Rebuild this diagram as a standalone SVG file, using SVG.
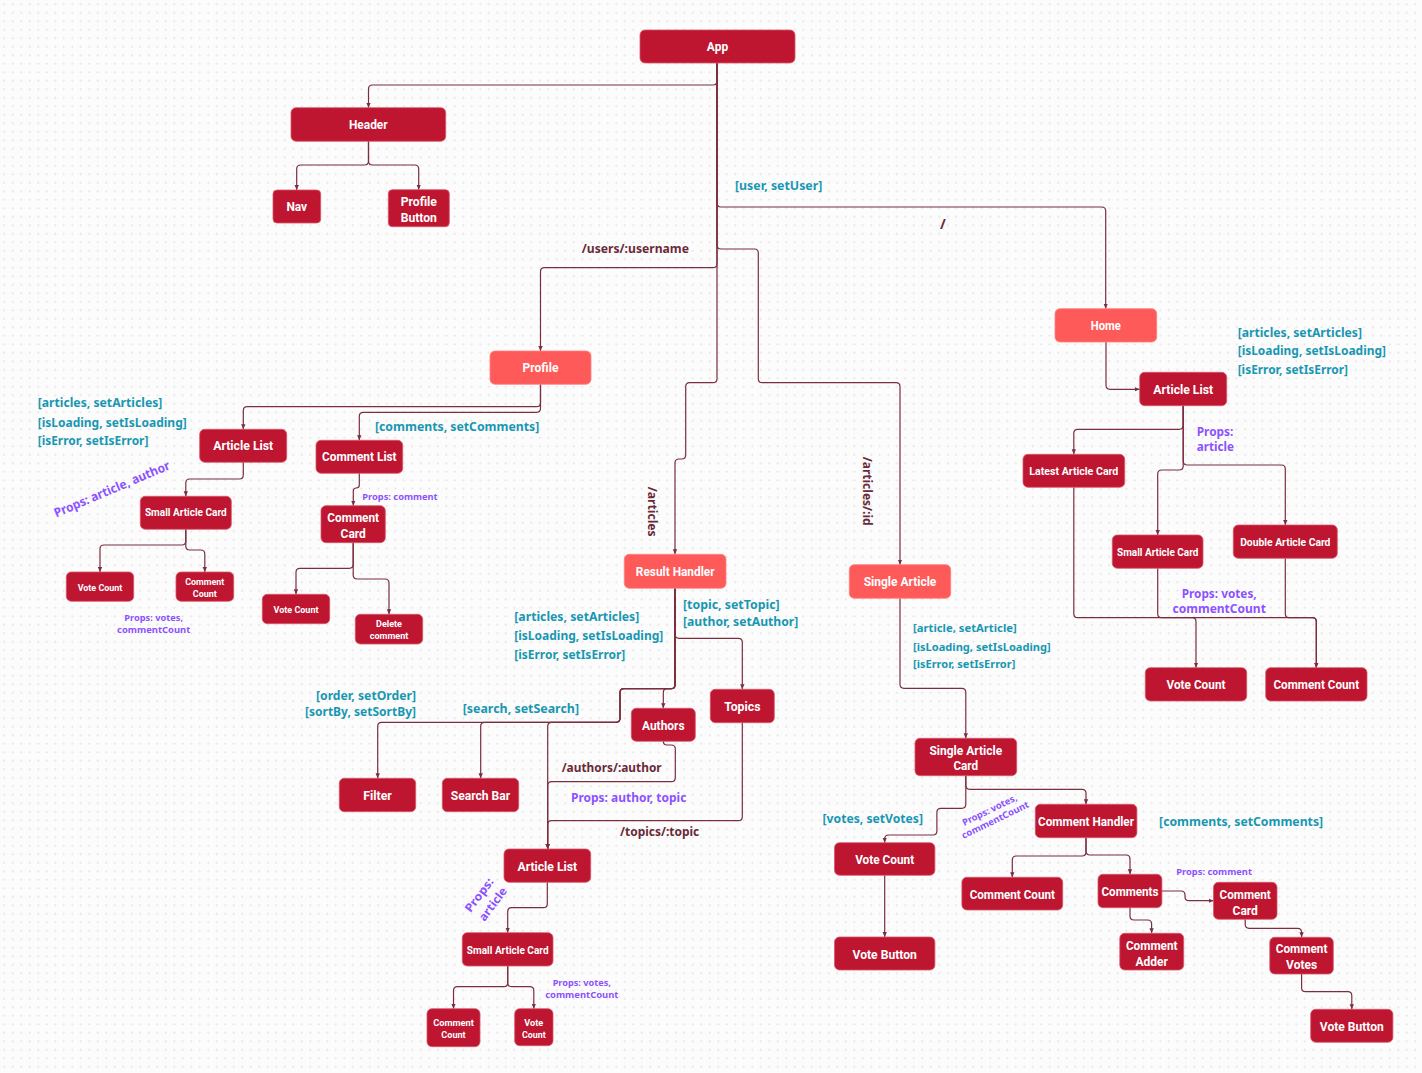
<svg xmlns="http://www.w3.org/2000/svg" width="1422" height="1073" viewBox="0 0 1422 1073">
  <defs>
    <pattern id="grid" width="8.5" height="8.5" patternUnits="userSpaceOnUse">
      <path d="M4.25 3.1 V5.4 M3.1 4.25 H5.4" stroke="#e3e3e3" stroke-width="0.8"/>
    </pattern>
    <marker id="arr" viewBox="0 0 6 6" refX="6" refY="3" markerWidth="5" markerHeight="5" markerUnits="userSpaceOnUse" orient="auto">
      <path d="M0,0.4 L6,3 L0,5.6 z" fill="#7a2e3e"/>
    </marker>
    <style>
      .n { fill: #be1531; stroke: #d8576a; stroke-width: 0.8; }
      .nl { fill: #ff5a5a; stroke: #ff8080; stroke-width: 0.8; }
      .t { font-family: Roboto, "Liberation Sans", sans-serif; font-weight: 700; fill: #ffffff; text-anchor: middle; dominant-baseline: central; font-size: 12.5px; }
      .sm { font-size: 10px; }
      .xs { font-size: 9.5px; }
      .c path { fill: none; stroke: #7a2e3e; stroke-width: 1.2; marker-end: url(#arr); }
      .st { font-family: "Noto Sans", "Open Sans", sans-serif; font-weight: 700; fill: #1897b2; font-size: 11.5px; dominant-baseline: central; }
      .rt { font-family: "Noto Sans", "Open Sans", sans-serif; font-weight: 700; fill: #6b2a38; font-size: 11.5px; dominant-baseline: central; }
      .pp { font-family: "Noto Sans", "Open Sans", sans-serif; font-weight: 700; fill: #8c52ff; font-size: 11.5px; dominant-baseline: central; }
      .pps { font-size: 9.2px; }
    </style>
  </defs>

  <rect width="1422" height="1073" fill="#fcfcfc"/>
  <rect width="1422" height="1073" fill="url(#grid)"/>

  <!-- connectors -->
  <g id="connectors" class="c">
    <path d="M717,63 V81 Q717,85 713,85 H372.5 Q368.5,85 368.5,89 V107.7"/>
    <path d="M368.5,141.3 V161 Q368.5,165 364.5,165 H300.7 Q296.7,165 296.7,169 V190"/>
    <path d="M368.5,141.3 V161 Q368.5,165 372.5,165 H414.7 Q418.7,165 418.7,169 V189.7"/>
    <path d="M717,63 V203 Q717,207 721,207 H1101.7 Q1105.7,207 1105.7,211 V308.7"/>
    <path d="M717,63 V263.7 Q717,267.7 713,267.7 H544.5 Q540.5,267.7 540.5,271.7 V351"/>
    <path d="M717,63 V245 Q717,249 721,249 H754.3 Q758.3,249 758.3,253 V378.7 Q758.3,382.7 762.3,382.7 H896 Q900,382.7 900,386.7 V564.7"/>
    <path d="M717,63 V378.7 Q717,382.7 713,382.7 H689.7 Q685.7,382.7 685.7,386.7 V455 Q685.7,459 681.7,459 H679 Q675,459 675,463 V554.3"/>

    <path d="M540.5,384.3 V402.7 Q540.5,406.7 536.5,406.7 H247.3 Q243.3,406.7 243.3,410.7 V429.3"/>
    <path d="M540.5,384.3 V408.3 Q540.5,412.3 536.5,412.3 H363.3 Q359.3,412.3 359.3,416.3 V440.3"/>
    <path d="M243.3,462.3 V475 Q243.3,479 239.3,479 H189.8 Q185.8,479 185.8,483 V496.3"/>
    <path d="M185.8,529.3 V541 Q185.8,545 181.8,545 H104 Q100,545 100,549 V572"/>
    <path d="M185.8,529.3 V546 Q185.8,550 189.8,550 H200.8 Q204.8,550 204.8,554 V572"/>
    <path d="M359.3,473.3 V485 Q359.3,488 356.3,488 Q353.3,488 353.3,491 V505.7"/>
    <path d="M353.2,542.7 V564.3 Q353.2,568.3 349.2,568.3 H300 Q296,568.3 296,572.3 V594.3"/>
    <path d="M353.2,542.7 V575 Q353.2,579 357.2,579 H385 Q389,579 389,583 V614.3"/>

    <path d="M1106,342 V385.3 Q1106,389.3 1110,389.3 H1139.7"/>
    <path d="M1183.2,405.7 V425.3 Q1183.2,429.3 1179.2,429.3 H1077.8 Q1073.8,429.3 1073.8,433.3 V454.3"/>
    <path d="M1183.2,405.7 V466 Q1183.2,470 1179.2,470 H1161.7 Q1157.7,470 1157.7,474 V535"/>
    <path d="M1183.2,405.7 V461 Q1183.2,465 1187.2,465 H1281.3 Q1285.3,465 1285.3,469 V525"/>
    <path d="M1073.8,487.3 V613.7 Q1073.8,617.7 1077.8,617.7 H1192 Q1196,617.7 1196,621.7 V667.7"/>
    <path d="M1157.7,568.3 V613.7 Q1157.7,617.7 1161.7,617.7 H1312.3 Q1316.3,617.7 1316.3,621.7 V667.7"/>
    <path d="M1285.3,558.3 V613.7 Q1285.3,617.7 1289.3,617.7 H1312.3 Q1316.3,617.7 1316.3,621.7 V667.7"/>

    <path d="M675,588.3 V634.3 Q675,638.3 679,638.3 H738.3 Q742.3,638.3 742.3,642.3 V689.3"/>
    <path d="M675,588.3 V684.7 Q675,688.7 671,688.7 H667.3 Q663.3,688.7 663.3,692.7 V708.3"/>
    <path d="M675,588.3 V684.7 Q675,688.7 671,688.7 H624 Q620,688.7 620,692.7 V718.3 Q620,722.3 616,722.3 H381.7 Q377.7,722.3 377.7,726.3 V778.3"/>
    <path d="M675,588.3 V684.7 Q675,688.7 671,688.7 H624 Q620,688.7 620,692.7 V718.3 Q620,722.3 616,722.3 H484.7 Q480.7,722.3 480.7,726.3 V778.3"/>
    <path d="M675,588.3 V684.7 Q675,688.7 671,688.7 H624 Q620,688.7 620,692.7 V718.3 Q620,722.3 616,722.3 H551.7 Q547.7,722.3 547.7,726.3 V849"/>
    <path d="M663.3,741.3 Q663.3,745 667,745 H671.3 Q675.3,745 675.3,749 V777.7 Q675.3,781.7 671.3,781.7 H551.7 Q547.7,781.7 547.7,785.7 V849"/>
    <path d="M742.3,722.7 V816.7 Q742.3,820.7 738.3,820.7 H551.7 Q547.7,820.7 547.7,824.7 V849"/>
    <path d="M547.3,882.3 V903.7 Q547.3,907.7 543.3,907.7 H511.7 Q507.7,907.7 507.7,911.7 V932.7"/>
    <path d="M507.7,966 V982.7 Q507.7,986.7 503.7,986.7 H457.5 Q453.5,986.7 453.5,990.7 V1008.7"/>
    <path d="M507.7,966 V982.7 Q507.7,986.7 511.7,986.7 H529.8 Q533.8,986.7 533.8,990.7 V1008.7"/>

    <path d="M900,598.3 V684.3 Q900,688.3 904,688.3 H961.8 Q965.8,688.3 965.8,692.3 V738.3"/>
    <path d="M965.8,775.7 V785.3 Q965.8,789.3 969.8,789.3 H1082 Q1086,789.3 1086,793.3 V804.3"/>
    <path d="M965.8,775.7 V804.3 Q965.8,808.3 961.8,808.3 H940.9 Q936.9,808.3 936.9,812.3 V831 Q936.9,835 932.9,835 H888.7 Q884.7,835 884.7,839 V842.7"/>
    <path d="M884.7,875.3 V937"/>
    <path d="M1086,837.7 V852 Q1086,856 1082,856 H1016.3 Q1012.3,856 1012.3,860 V877.3"/>
    <path d="M1086,837.7 V851 Q1086,855 1090,855 H1126 Q1130,855 1130,859 V874.3"/>
    <path d="M1161.9,891 H1181 Q1185,891 1185,895 V896.7 Q1185,900.7 1189,900.7 H1213.5"/>
    <path d="M1130,907.7 V916 Q1130,920 1134,920 H1147.6 Q1151.6,920 1151.6,924 V933.3"/>
    <path d="M1245.2,919.3 V924.3 Q1245.2,928.3 1249.2,928.3 H1297.6 Q1301.6,928.3 1301.6,932.3 V937.3"/>
    <path d="M1301.6,974 V987.7 Q1301.6,991.7 1305.6,991.7 H1347.8 Q1351.8,991.7 1351.8,995.7 V1009.3"/>
  </g>

  <!-- state, route and prop labels -->
  <g id="labels">
    <text class="st" x="735" y="185" textLength="87.3" lengthAdjust="spacingAndGlyphs">[user, setUser]</text>
    <text class="rt" x="940" y="223" style="font-size:14px">/</text>
    <text class="rt" x="581.7" y="248.3" textLength="107.3" lengthAdjust="spacingAndGlyphs">/users/:username</text>
    <text class="rt" transform="translate(652.3,511.7) rotate(90)" text-anchor="middle" textLength="50" lengthAdjust="spacingAndGlyphs">/articles</text>
    <text class="rt" transform="translate(867.5,491.2) rotate(90)" text-anchor="middle" textLength="69" lengthAdjust="spacingAndGlyphs">/articles/:id</text>

    <text class="st" x="37.7" y="402.7" textLength="124.7" lengthAdjust="spacingAndGlyphs">[articles, setArticles]</text>
    <text class="st" x="37.7" y="422" textLength="149" lengthAdjust="spacingAndGlyphs">[isLoading, setIsLoading]</text>
    <text class="st" x="37.7" y="440.7" textLength="110.7" lengthAdjust="spacingAndGlyphs">[isError, setIsError]</text>
    <text class="st" x="375" y="426.7" textLength="164.3" lengthAdjust="spacingAndGlyphs">[comments, setComments]</text>
    <text class="pp" transform="translate(111.8,489) rotate(-23)" text-anchor="middle" textLength="124.7" lengthAdjust="spacingAndGlyphs" style="font-size:12.5px">Props: article, author</text>
    <text class="pp pps" x="362.3" y="496" textLength="75.3" lengthAdjust="spacingAndGlyphs">Props: comment</text>
    <text class="pp pps" x="153.7" y="617.3" text-anchor="middle" textLength="58.7" lengthAdjust="spacingAndGlyphs">Props: votes,</text>
    <text class="pp pps" x="153.7" y="629.7" text-anchor="middle" textLength="73.3" lengthAdjust="spacingAndGlyphs">commentCount</text>

    <text class="st" x="1237.7" y="332" textLength="124.3" lengthAdjust="spacingAndGlyphs">[articles, setArticles]</text>
    <text class="st" x="1237.7" y="350.7" textLength="148.3" lengthAdjust="spacingAndGlyphs">[isLoading, setIsLoading]</text>
    <text class="st" x="1237.7" y="369.7" textLength="110.3" lengthAdjust="spacingAndGlyphs">[isError, setIsError]</text>
    <text class="pp" x="1196.7" y="431.7" textLength="36.7" lengthAdjust="spacingAndGlyphs">Props:</text>
    <text class="pp" x="1196.7" y="446.7" textLength="37.3" lengthAdjust="spacingAndGlyphs">article</text>
    <text class="pp" x="1219.2" y="593.3" text-anchor="middle" textLength="75" lengthAdjust="spacingAndGlyphs">Props: votes,</text>
    <text class="pp" x="1219.2" y="608.7" text-anchor="middle" textLength="93.3" lengthAdjust="spacingAndGlyphs">commentCount</text>

    <text class="st" x="514.3" y="616.7" textLength="125" lengthAdjust="spacingAndGlyphs">[articles, setArticles]</text>
    <text class="st" x="514.3" y="635.3" textLength="149" lengthAdjust="spacingAndGlyphs">[isLoading, setIsLoading]</text>
    <text class="st" x="514.3" y="654" textLength="111" lengthAdjust="spacingAndGlyphs">[isError, setIsError]</text>
    <text class="st" x="683" y="604" textLength="96.7" lengthAdjust="spacingAndGlyphs">[topic, setTopic]</text>
    <text class="st" x="683" y="621.3" textLength="115.3" lengthAdjust="spacingAndGlyphs">[author, setAuthor]</text>
    <text class="st" x="416" y="695" text-anchor="end" textLength="100" lengthAdjust="spacingAndGlyphs">[order, setOrder]</text>
    <text class="st" x="416" y="711" text-anchor="end" textLength="111" lengthAdjust="spacingAndGlyphs">[sortBy, setSortBy]</text>
    <text class="st" x="462.7" y="708" textLength="116.3" lengthAdjust="spacingAndGlyphs">[search, setSearch]</text>
    <text class="rt" x="561.7" y="767.3" textLength="100" lengthAdjust="spacingAndGlyphs">/authors/:author</text>
    <text class="pp" x="571" y="797.3" textLength="115.3" lengthAdjust="spacingAndGlyphs">Props: author, topic</text>
    <text class="rt" x="620" y="831" textLength="79.3" lengthAdjust="spacingAndGlyphs">/topics/:topic</text>
    <text class="pp" transform="translate(478.8,894.7) rotate(-53)" text-anchor="middle" textLength="39.2" lengthAdjust="spacingAndGlyphs">Props:</text>
    <text class="pp" transform="translate(492.5,903.8) rotate(-53)" text-anchor="middle" textLength="38.6" lengthAdjust="spacingAndGlyphs">article</text>
    <text class="pp pps" x="581.8" y="982.3" text-anchor="middle" textLength="58.3" lengthAdjust="spacingAndGlyphs">Props: votes,</text>
    <text class="pp pps" x="581.8" y="994" text-anchor="middle" textLength="73.3" lengthAdjust="spacingAndGlyphs">commentCount</text>

    <text class="st" x="913" y="628.3" textLength="103.7" lengthAdjust="spacingAndGlyphs" style="font-size:10.5px">[article, setArticle]</text>
    <text class="st" x="913" y="646.7" textLength="137.7" lengthAdjust="spacingAndGlyphs" style="font-size:10.5px">[isLoading, setIsLoading]</text>
    <text class="st" x="913" y="664.3" textLength="102.3" lengthAdjust="spacingAndGlyphs" style="font-size:10.5px">[isError, setIsError]</text>
    <text class="st" x="822.6" y="818.3" textLength="100.4" lengthAdjust="spacingAndGlyphs">[votes, setVotes]</text>
    <text class="pp pps" transform="translate(989.5,809.7) rotate(-26)" text-anchor="middle" textLength="59.6" lengthAdjust="spacingAndGlyphs">Props: votes,</text>
    <text class="pp pps" transform="translate(995,819.7) rotate(-26)" text-anchor="middle" textLength="73.7" lengthAdjust="spacingAndGlyphs">commentCount</text>
    <text class="st" x="1159.1" y="821" textLength="164" lengthAdjust="spacingAndGlyphs">[comments, setComments]</text>
    <text class="pp pps" x="1176.2" y="871" textLength="75.8" lengthAdjust="spacingAndGlyphs">Props: comment</text>
  </g>

  <!-- nodes -->
  <g id="app"><rect class="n" x="640" y="30" width="155" height="33" rx="5"/><text class="t" x="717.5" y="46.5" textLength="21.3" lengthAdjust="spacingAndGlyphs">App</text></g>
  <g id="header"><rect class="n" x="291" y="107.7" width="154.7" height="33.6" rx="5"/><text class="t" x="368.3" y="124.5" textLength="38.7" lengthAdjust="spacingAndGlyphs">Header</text></g>
  <g id="nav"><rect class="n" x="273" y="190" width="47.7" height="33" rx="4"/><text class="t" x="296.8" y="206.5" textLength="20.7" lengthAdjust="spacingAndGlyphs">Nav</text></g>
  <g id="profile-button"><rect class="n" x="388.3" y="189.7" width="61" height="37" rx="4"/><text class="t" x="418.8" y="201.3" textLength="36.3" lengthAdjust="spacingAndGlyphs">Profile</text><text class="t" x="418.8" y="217.3" textLength="36.3" lengthAdjust="spacingAndGlyphs">Button</text></g>

  <g id="profile"><rect class="nl" x="490" y="351" width="101" height="33.3" rx="5"/><text class="t" x="540.5" y="367.7" textLength="35.8" lengthAdjust="spacingAndGlyphs">Profile</text></g>
  <g id="home"><rect class="nl" x="1055" y="308.7" width="101.7" height="33.3" rx="5"/><text class="t" x="1105.8" y="325.3" textLength="30" lengthAdjust="spacingAndGlyphs">Home</text></g>
  <g id="result-handler"><rect class="nl" x="624.3" y="554.3" width="101.7" height="34" rx="5"/><text class="t" x="675.2" y="571.3" textLength="78.7" lengthAdjust="spacingAndGlyphs">Result Handler</text></g>
  <g id="single-article"><rect class="nl" x="849.3" y="564.7" width="101.4" height="33.6" rx="5"/><text class="t" x="900" y="581.5" textLength="72.7" lengthAdjust="spacingAndGlyphs">Single Article</text></g>

  <g id="profile-article-list"><rect class="n" x="199.7" y="429.3" width="87" height="33" rx="5"/><text class="t" x="243.2" y="445.8" textLength="60" lengthAdjust="spacingAndGlyphs">Article List</text></g>
  <g id="profile-comment-list"><rect class="n" x="316" y="440.3" width="86.7" height="33" rx="5"/><text class="t" x="359.3" y="456.8" textLength="74.7" lengthAdjust="spacingAndGlyphs">Comment List</text></g>
  <g id="profile-small-article-card"><rect class="n" x="140.3" y="496.3" width="91" height="33" rx="5"/><text class="t sm" x="185.8" y="512.8" textLength="81.7" lengthAdjust="spacingAndGlyphs">Small Article Card</text></g>
  <g id="profile-comment-card"><rect class="n" x="321" y="505.7" width="64.3" height="37" rx="5"/><text class="t" x="353.2" y="517.5" textLength="51.7" lengthAdjust="spacingAndGlyphs">Comment</text><text class="t" x="353.2" y="533" textLength="25.3" lengthAdjust="spacingAndGlyphs">Card</text></g>
  <g id="profile-vote-count"><rect class="n" x="66.3" y="572" width="67.4" height="29.3" rx="5"/><text class="t xs" x="100" y="587" textLength="44.7" lengthAdjust="spacingAndGlyphs">Vote Count</text></g>
  <g id="profile-comment-count"><rect class="n" x="176" y="572" width="57.7" height="29.3" rx="5"/><text class="t xs" x="204.8" y="581.7" textLength="39" lengthAdjust="spacingAndGlyphs">Comment</text><text class="t xs" x="204.8" y="593.3" textLength="24" lengthAdjust="spacingAndGlyphs">Count</text></g>
  <g id="comment-card-vote-count"><rect class="n" x="262.3" y="594.3" width="67.4" height="29.4" rx="5"/><text class="t xs" x="296" y="609.7" textLength="45" lengthAdjust="spacingAndGlyphs">Vote Count</text></g>
  <g id="delete-comment"><rect class="n" x="355.3" y="614.3" width="67.4" height="29.7" rx="5"/><text class="t xs" x="389" y="623.9" textLength="26" lengthAdjust="spacingAndGlyphs">Delete</text><text class="t xs" x="389" y="635.8" textLength="38.7" lengthAdjust="spacingAndGlyphs">comment</text></g>

  <g id="home-article-list"><rect class="n" x="1139.7" y="372.3" width="87" height="33.4" rx="5"/><text class="t" x="1183.2" y="389" textLength="59.7" lengthAdjust="spacingAndGlyphs">Article List</text></g>
  <g id="latest-article-card"><rect class="n" x="1023" y="454.3" width="101.7" height="33" rx="5"/><text class="t sm" x="1073.8" y="471" textLength="89" lengthAdjust="spacingAndGlyphs">Latest Article Card</text></g>
  <g id="home-small-article-card"><rect class="n" x="1112.3" y="535" width="90.7" height="33.3" rx="5"/><text class="t sm" x="1157.7" y="552.2" textLength="81.3" lengthAdjust="spacingAndGlyphs">Small Article Card</text></g>
  <g id="double-article-card"><rect class="n" x="1233.3" y="525" width="104" height="33.3" rx="5"/><text class="t sm" x="1285.3" y="542" textLength="90.3" lengthAdjust="spacingAndGlyphs">Double Article Card</text></g>
  <g id="home-vote-count"><rect class="n" x="1145.3" y="667.7" width="101.4" height="33.3" rx="5"/><text class="t" x="1196" y="684.6" textLength="59" lengthAdjust="spacingAndGlyphs">Vote Count</text></g>
  <g id="home-comment-count"><rect class="n" x="1265.7" y="667.7" width="101.3" height="33.3" rx="5"/><text class="t" x="1316.3" y="684.6" textLength="85.7" lengthAdjust="spacingAndGlyphs">Comment Count</text></g>

  <g id="topics"><rect class="n" x="710.3" y="689.3" width="64" height="33.4" rx="5"/><text class="t" x="742.3" y="706.4" textLength="36.3" lengthAdjust="spacingAndGlyphs">Topics</text></g>
  <g id="authors"><rect class="n" x="631.3" y="708.3" width="64" height="33" rx="5"/><text class="t" x="663.3" y="725.4" textLength="42.7" lengthAdjust="spacingAndGlyphs">Authors</text></g>
  <g id="filter"><rect class="n" x="339.3" y="778.3" width="76.4" height="33.4" rx="5"/><text class="t" x="377.5" y="795.4" textLength="28.7" lengthAdjust="spacingAndGlyphs">Filter</text></g>
  <g id="search-bar"><rect class="n" x="442.3" y="778.3" width="76.4" height="33.4" rx="5"/><text class="t" x="480.5" y="795.4" textLength="59.3" lengthAdjust="spacingAndGlyphs">Search Bar</text></g>
  <g id="results-article-list"><rect class="n" x="504" y="849" width="86.7" height="33.3" rx="5"/><text class="t" x="547.3" y="866.4" textLength="59.7" lengthAdjust="spacingAndGlyphs">Article List</text></g>
  <g id="results-small-article-card"><rect class="n" x="462.3" y="932.7" width="90.7" height="33.3" rx="5"/><text class="t sm" x="507.7" y="950" textLength="81.7" lengthAdjust="spacingAndGlyphs">Small Article Card</text></g>
  <g id="results-comment-count"><rect class="n" x="427" y="1008.7" width="53" height="38" rx="5"/><text class="t xs" x="453.5" y="1022.3" textLength="40.7" lengthAdjust="spacingAndGlyphs">Comment</text><text class="t xs" x="453.5" y="1034.3" textLength="24.3" lengthAdjust="spacingAndGlyphs">Count</text></g>
  <g id="results-vote-count"><rect class="n" x="514.7" y="1008.7" width="38.3" height="37" rx="5"/><text class="t xs" x="533.8" y="1022" textLength="19" lengthAdjust="spacingAndGlyphs">Vote</text><text class="t xs" x="533.8" y="1034" textLength="23.7" lengthAdjust="spacingAndGlyphs">Count</text></g>

  <g id="single-article-card"><rect class="n" x="915" y="738.3" width="101.7" height="37.4" rx="5"/><text class="t" x="965.8" y="750" textLength="72.7" lengthAdjust="spacingAndGlyphs">Single Article</text><text class="t" x="965.8" y="765.5" textLength="24.7" lengthAdjust="spacingAndGlyphs">Card</text></g>
  <g id="comment-handler"><rect class="n" x="1035.3" y="804.3" width="101.6" height="33.4" rx="5"/><text class="t" x="1086" y="821.8" textLength="96" lengthAdjust="spacingAndGlyphs">Comment Handler</text></g>
  <g id="article-vote-count"><rect class="n" x="834.5" y="842.7" width="100.4" height="32.6" rx="5"/><text class="t" x="884.7" y="859.8" textLength="59.1" lengthAdjust="spacingAndGlyphs">Vote Count</text></g>
  <g id="article-vote-button"><rect class="n" x="834.5" y="937" width="100.4" height="33" rx="5"/><text class="t" x="884.7" y="954.4" textLength="64.3" lengthAdjust="spacingAndGlyphs">Vote Button</text></g>
  <g id="article-comment-count"><rect class="n" x="961.9" y="877.3" width="100.8" height="32.7" rx="5"/><text class="t" x="1012.3" y="894.3" textLength="85.3" lengthAdjust="spacingAndGlyphs">Comment Count</text></g>
  <g id="comments"><rect class="n" x="1098" y="874.3" width="63.9" height="33.4" rx="5"/><text class="t" x="1130" y="891.6" textLength="57.1" lengthAdjust="spacingAndGlyphs">Comments</text></g>
  <g id="article-comment-card"><rect class="n" x="1213.5" y="882.3" width="63.5" height="37" rx="5"/><text class="t" x="1245.2" y="894.3" textLength="51.2" lengthAdjust="spacingAndGlyphs">Comment</text><text class="t" x="1245.2" y="910" textLength="25.4" lengthAdjust="spacingAndGlyphs">Card</text></g>
  <g id="comment-adder"><rect class="n" x="1119.8" y="933.3" width="63.9" height="36.7" rx="5"/><text class="t" x="1151.7" y="945.2" textLength="51.6" lengthAdjust="spacingAndGlyphs">Comment</text><text class="t" x="1151.7" y="961" textLength="32.5" lengthAdjust="spacingAndGlyphs">Adder</text></g>
  <g id="comment-votes"><rect class="n" x="1269.8" y="937.3" width="63.5" height="36.7" rx="5"/><text class="t" x="1301.6" y="948.7" textLength="51.6" lengthAdjust="spacingAndGlyphs">Comment</text><text class="t" x="1301.6" y="964.3" textLength="31" lengthAdjust="spacingAndGlyphs">Votes</text></g>
  <g id="comment-vote-button"><rect class="n" x="1310.7" y="1009.3" width="82.2" height="33" rx="5"/><text class="t" x="1351.8" y="1026.6" textLength="63.9" lengthAdjust="spacingAndGlyphs">Vote Button</text></g>
</svg>
